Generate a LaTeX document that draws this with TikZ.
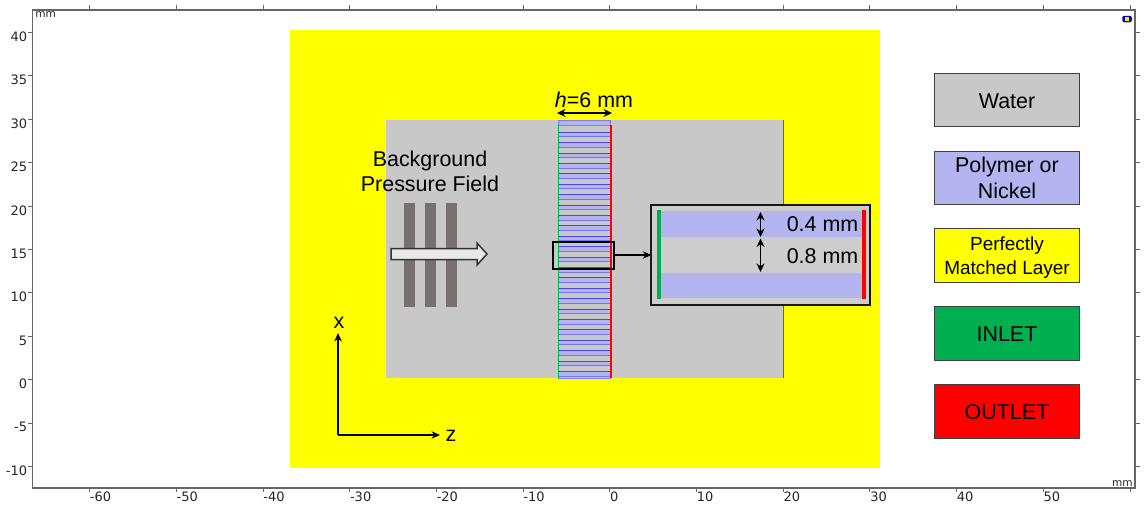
\documentclass[tikz,border=0pt]{standalone}
\usepackage{fontspec}
\setmainfont{Liberation Sans}
\newfontfamily\ticksfont{DejaVu Sans}
\usetikzlibrary{arrows.meta}
\definecolor{WaterGray}{HTML}{C8C8C8}
\definecolor{InsetGray}{HTML}{CDCDCD}
\definecolor{LayerBlue}{HTML}{B4B4F0}
\definecolor{InletGreen}{HTML}{00B050}
\definecolor{OutletRed}{HTML}{FF0000}
\definecolor{PmlYellow}{HTML}{FFFF00}
\definecolor{StripeBlue}{HTML}{4646F0}
\definecolor{BarGray}{HTML}{767070}
\definecolor{AxisGray}{HTML}{666666}
\tikzset{
    plain/.style={shape=rectangle, inner sep=0pt, outer sep=0pt},
    legend/.style={plain, draw=black!75, line width=0.02cm, minimum width=2.92cm, minimum height=1.08cm},
    callout/.style={inner sep=0pt, align=center, font=\fontsize{12.2}{14.5}\selectfont},
    smallcallout/.style={inner sep=0pt, align=center, font=\fontsize{10.8}{13.2}\selectfont},
    ticklabel/.style={inner sep=0pt, text=black!85, font=\ticksfont\fontsize{7.4}{8}\selectfont},
    unitlabel/.style={inner sep=0pt, text=black!85, font=\ticksfont\fontsize{6}{7}\selectfont},
    tickline/.style={AxisGray, line width=0.02cm},
    dimarrow/.style={{Stealth[length=0.17cm,width=0.16cm]}-{Stealth[length=0.17cm,width=0.16cm]}, line width=0.035cm},
    axisarrow/.style={-{Stealth[length=0.17cm,width=0.15cm]}, line width=0.035cm}
}
\begin{document}
\begin{tikzpicture}[x=0.02cm, y=-0.02cm]
    \useasboundingbox (0,0) rectangle (1146,504);
    % Frame and ticks:
    \node[plain, draw=AxisGray, line width=0.03cm, minimum width=22.05cm, minimum height=9.56cm](Frame) at (583.75,249){};
    \foreach \tx/\tl in {89.6/-60,176.3/-50,263/-40,349.7/-30,436.4/-20,523.1/-10,609.8/0,696.5/10,783.2/20,869.9/30,956.6/40,1043.3/50,1130/{}}{
        \draw[tickline] (\tx,5) -- (\tx,10);
        \draw[tickline] (\tx,488) -- (\tx,492);
        \node[ticklabel, anchor=north west] at (\tx,491.5){\tl};
    }
    \foreach \ty/\tl in {32.5/40,75.9/35,119.3/30,162.7/25,206.1/20,249.5/15,292.9/10,336.3/5,379.7/0,423.1/-5,466.5/-10}{
        \draw[tickline] (28,\ty) -- (32.5,\ty);
        \draw[tickline] (1135,\ty) -- (1140,\ty);
        \node[ticklabel, anchor=north east] at (27.5,\ty-1){\tl};
    }
    \node[unitlabel, anchor=north west] at (35,11.5){mm};
    \node[unitlabel, anchor=south east] at (1133,487){mm};
    \node[plain, fill=blue!75!black, rounded corners=0.04cm, minimum width=0.19cm, minimum height=0.13cm](Logo) at (1127,19){};
    \node[plain, fill=PmlYellow!80!orange, minimum width=0.08cm, minimum height=0.07cm] at (1126.5,19){};

    % Domains:
    \node[plain, fill=PmlYellow, minimum width=11.8cm, minimum height=8.77cm](PML) at (585,249){};
    \node[plain, fill=WaterGray, minimum width=7.96cm, minimum height=5.16cm](WaterBox) at (585,249){};
    \draw[AxisGray, line width=0.02cm] (WaterBox.north east) -- (WaterBox.south east);
    \node[plain, fill=WaterGray, draw=StripeBlue!70, line width=0.015cm, minimum width=1.05cm, minimum height=5.16cm](Slab) at (584.5,249){};
    \node[plain, fill=LayerBlue, draw=StripeBlue!70, line width=0.012cm, minimum width=1.05cm, minimum height=0.1cm] at (584.5,122.5){};
    \foreach \k in {0,...,23}{
        \node[plain, fill=LayerBlue, minimum width=1.03cm, minimum height=0.085cm](S\k) at (584.5,134.5+10.4*\k){};
        \draw[StripeBlue, line width=0.02cm] (S\k.north west) -- (S\k.north east);
        \draw[StripeBlue!75, line width=0.012cm] (S\k.south west) -- (S\k.south east);
    }
    \draw[InletGreen, line width=0.03cm] (558.5,125) -- (558.5,378);
    \draw[OutletRed, line width=0.03cm] (610.8,125) -- (610.8,378);

    % Incident field:
    \foreach \bx in {409.5,430.5,451.5}{
        \node[plain, fill=BarGray, minimum width=0.22cm, minimum height=2.08cm] at (\bx,255){};
    }
    \draw[draw=black!80, fill=black!9, line width=0.03cm] (391,248.5) -- (477,248.5) -- (477,243) -- (487,254) -- (477,265) -- (477,259.5) -- (391,259.5) -- cycle;
    \node[callout](Field) at (430,171.5){Background\\Pressure Field};

    % Thickness and zoom:
    \node[callout](Thick) at (594,100){\textit{h}=6 mm};
    \coordinate (ThickL) at (557,113);
    \coordinate (ThickR) at (612,113);
    \draw[dimarrow] (ThickL) -- (ThickR);
    \node[plain, draw=black, line width=0.04cm, minimum width=1.22cm, minimum height=0.54cm](ZoomBox) at (583.5,255){};
    \node[plain, fill=InsetGray, draw=black!90, line width=0.045cm, minimum width=4.38cm, minimum height=2cm](Inset) at (760.7,255){};
    \draw[axisarrow] (ZoomBox.east) -- (Inset.west);
    \node[plain, fill=LayerBlue, minimum width=4.04cm, minimum height=0.52cm](BandT) at (761,224){};
    \node[plain, fill=LayerBlue, minimum width=4.04cm, minimum height=0.5cm](BandB) at (761,285.5){};
    \node[plain, fill=InletGreen, minimum width=0.09cm, minimum height=1.78cm](InsetIn) at (658.8,254.5){};
    \node[plain, fill=OutletRed, minimum width=0.09cm, minimum height=1.78cm](InsetOut) at (863.8,254.5){};
    \coordinate (DimA) at (760.5,212);
    \coordinate (DimB) at (760.5,237);
    \coordinate (DimC) at (760.5,238.5);
    \coordinate (DimD) at (760.5,272);
    \draw[dimarrow] (DimA) -- (DimB);
    \draw[dimarrow] (DimC) -- (DimD);
    \node[callout](LabelT) at (822.5,224){0.4 mm};
    \node[callout](LabelG) at (822.5,256){0.8 mm};

    % Axes:
    \coordinate (Origin) at (338,435);
    \node[callout](AxisX) at (339,322.5){x};
    \node[callout](AxisZ) at (451,435.5){z};
    \draw[axisarrow] (Origin) -- (338,333);
    \draw[axisarrow] (Origin) -- (440,435);

    % Legend:
    \node[legend, fill=WaterGray](L1) at (1007,100){} node[callout] at (1007,101.5){Water};
    \node[legend, fill=LayerBlue](L2) at (1007,178){} node[callout] at (1007,178){Polymer or\\Nickel};
    \node[legend, fill=PmlYellow](L3) at (1007,255.5){} node[smallcallout] at (1007,257.5){Perfectly\\Matched Layer};
    \node[legend, fill=InletGreen](L4) at (1007,333){} node[callout] at (1007,334){INLET};
    \node[legend, fill=OutletRed](L5) at (1007,411){} node[callout] at (1007,412){OUTLET};
\end{tikzpicture}
\end{document}
